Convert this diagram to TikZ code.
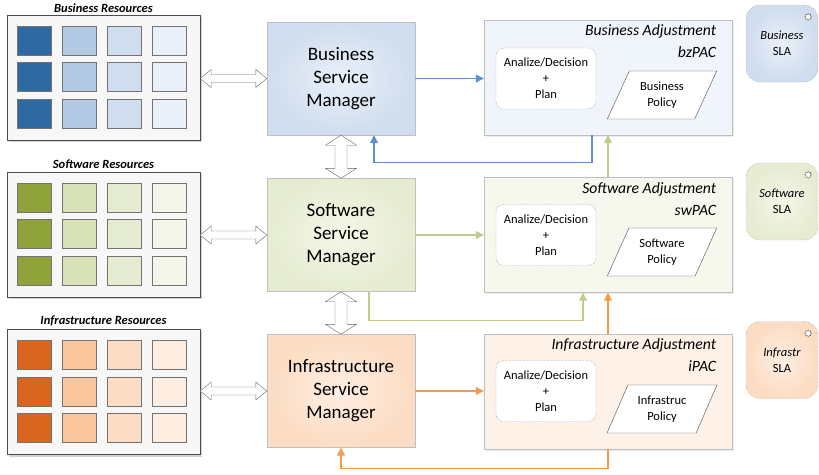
\documentclass[tikz,border=0pt]{standalone}
\usepackage{fontspec}
\setmainfont{Carlito}
\usetikzlibrary{shapes.geometric,arrows.meta,positioning,calc,shadows}
\usepackage{xcolor}
\definecolor{bz1}{HTML}{2E6AA1}
\definecolor{bz2}{HTML}{B4C9E3}
\definecolor{bz3}{HTML}{D0DDEE}
\definecolor{bz4}{HTML}{E9F0F9}
\definecolor{sw1}{HTML}{8FA33A}
\definecolor{sw2}{HTML}{D8E2B6}
\definecolor{sw3}{HTML}{E6ECD2}
\definecolor{sw4}{HTML}{F3F6E8}
\definecolor{in1}{HTML}{D9661F}
\definecolor{in2}{HTML}{F9C69D}
\definecolor{in3}{HTML}{FCDCC2}
\definecolor{in4}{HTML}{FEEEE2}
\definecolor{bzln}{HTML}{5B8FD0}
\definecolor{swln}{HTML}{BFCC8A}
\definecolor{inln}{HTML}{F39A4E}
% hollow two-headed block arrows between two points
\newcommand{\hdbl}[2]{\draw[dblarr] (#1) -- ++(11,-9) -- ++(0,5) -- ($(#2)+(-11,-4)$) -- ++(0,-5) -- (#2) -- ++(-11,9) -- ++(0,-5) -- ($(#1)+(11,4)$) -- ++(0,5) -- cycle;}
\newcommand{\vdbl}[2]{\draw[dblarr] (#1) -- ++(-15.5,10) -- ++(9.5,0) -- ($(#2)+(-6,-10)$) -- ++(-9.5,0) -- (#2) -- ++(15.5,-10) -- ++(-9.5,0) -- ($(#1)+(6,10)$) -- ++(9.5,0) -- cycle;}

\begin{document}
\begin{tikzpicture}[x=1pt, y=-1pt,
  res/.style={draw=black!70, fill=black!3, minimum width=193pt, minimum height=125pt, drop shadow={shadow xshift=2pt, shadow yshift=-2pt, opacity=0.35}},
  rtitle/.style={font=\fontsize{12.5}{14}\selectfont\bfseries\itshape},
  sq/.style={draw=black!55, minimum width=34pt, minimum height=29pt, inner sep=0pt},
  mgr/.style={draw=black!25, minimum width=148pt, minimum height=113pt, align=center, font=\fontsize{19}{23}\selectfont},
  adj/.style={draw=black!25, minimum width=248pt, minimum height=115pt, drop shadow={shadow xshift=1.5pt, shadow yshift=-1.5pt, opacity=0.15}},
  atitle/.style={font=\fontsize{15.7}{22}\selectfont\itshape, align=right, inner sep=0pt, anchor=north east},
  adp/.style={draw=black!60, densely dotted, rounded corners=8pt, fill=white, minimum width=100pt, minimum height=61pt, align=center, font=\fontsize{12.5}{16}\selectfont},
  pol/.style={trapezium, trapezium left angle=63, trapezium right angle=117, trapezium stretches=true, draw=black!70, fill=white, minimum width=110pt, minimum height=48pt, align=center, font=\fontsize{12.5}{16}\selectfont},
  sla/.style={draw=black!45, densely dotted, rounded corners=14pt, minimum width=72pt, minimum height=77pt, align=center, font=\fontsize{12.5}{16}\selectfont},
  gear/.style={star, star points=8, star point ratio=1.5, draw=black!60, fill=white, minimum size=7pt, inner sep=0pt},
  dblarr/.style={draw=black!60, fill=white, line join=miter},
  barr/.style={-{Triangle[length=8pt,width=8pt]}, line width=1.2pt, bzln},
  garr/.style={-{Triangle[length=8pt,width=8pt]}, line width=1.2pt, swln},
  oarr/.style={-{Triangle[length=8pt,width=8pt]}, line width=1.2pt, inln}
]
\useasboundingbox (0,0) rectangle (819,474);

% resources
\node[res] (bzres) at (103.5,77.5) {};
\node[res] (swres) at (103.5,234.5) {};
\node[res] (inres) at (103.5,392) {};
\node[rtitle] (bzrt) at (103.5,8) {Business Resources};
\node[rtitle] (swrt) at (103.5,164) {Software Resources};
\node[rtitle] (inrt) at (103.5,321) {Infrastructure Resources};
\foreach \lay/\yc in {bz/77.5, sw/234.5, in/392}{
  \foreach \r in {0,1,2}{
    \foreach \c in {1,...,4}{
      \node[sq, fill=\lay\c] (\lay sq\r\c) at ({34.5+45*(\c-1)}, {\yc-37+36.5*\r}) {};
    }
  }
}

% service managers
\node[mgr, inner color=bz4, outer color=bz3] (bzmgr) at (341,78.5) {Business\\Service\\Manager};
\node[mgr, inner color=sw4, outer color=sw3] (swmgr) at (341,235) {Software\\Service\\Manager};
\node[mgr, inner color=in4, outer color=in3] (inmgr) at (341,391) {Infrastructure\\Service\\Manager};

% adjustment loops
\node[adj, fill=bz4!70] (bzadj) at (608,77.5) {};
\node[adj, fill=sw4!75] (swadj) at (608,235) {};
\node[adj, fill=in4!80] (inadj) at (608,391.5) {};
\node[atitle] (bzat) at ($(bzadj.north east)+(-16,5)$) {Business Adjustment\\bzPAC};
\node[atitle] (swat) at ($(swadj.north east)+(-16,5)$) {Software Adjustment\\swPAC};
\node[atitle] (inat) at ($(inadj.north east)+(-16,5)$) {Infrastructure Adjustment\\iPAC};
\node[adp] (bzadp) at (546,78.5) {Analize/Decision\\+\\Plan};
\node[adp] (swadp) at (546,235) {Analize/Decision\\+\\Plan};
\node[adp] (inadp) at (546,391) {Analize/Decision\\+\\Plan};
\node[pol] (bzpol) at (662,95) {Business\\Policy};
\node[pol] (swpol) at (662,252) {Software\\Policy};
\node[pol] (inpol) at (662,409) {Infrastruc\\Policy};

% SLAs
\node[sla, inner color=bz4, outer color=bz3] (bzsla) at (782,43.5) {\textit{Business}\\SLA};
\node[sla, inner color=sw4, outer color=sw3] (swsla) at (782,201.5) {\textit{Software}\\SLA};
\node[sla, inner color=in4, outer color=in3] (insla) at (782,360) {\textit{Infrastr}\\SLA};
\foreach \s in {bzsla,swsla,insla}{\node[gear] at ($(\s.north east)+(-10,12)$) {};}

% hollow double arrows
\hdbl{bzmgr.west -| bzres.east}{bzmgr.west}
\hdbl{swmgr.west -| swres.east}{swmgr.west}
\hdbl{inmgr.west -| inres.east}{inmgr.west}
\vdbl{bzmgr.south}{swmgr.north}
\vdbl{swmgr.south}{inmgr.north}

% connectors
\draw[barr] (bzmgr.east) -- (bzmgr.east -| bzadj.west);
\draw[garr] (swmgr.east) -- (swmgr.east -| swadj.west);
\draw[oarr] (inmgr.east) -- (inmgr.east -| inadj.west);
\draw[barr] ([xshift=-16pt]bzadj.south) -- ++(0,27) -| ([xshift=33pt]bzmgr.south);
\draw[garr] (swadj.north) -- (bzadj.south);
\draw[oarr] (inadj.north) -- (swadj.south);
\draw[garr] ([xshift=28pt]swmgr.south) -- ++(0,29) -| ([xshift=-25pt]swadj.south);
\draw[oarr] (inadj.south) -- ++(0,19) -| (inmgr.south);
\end{tikzpicture}
\end{document}
